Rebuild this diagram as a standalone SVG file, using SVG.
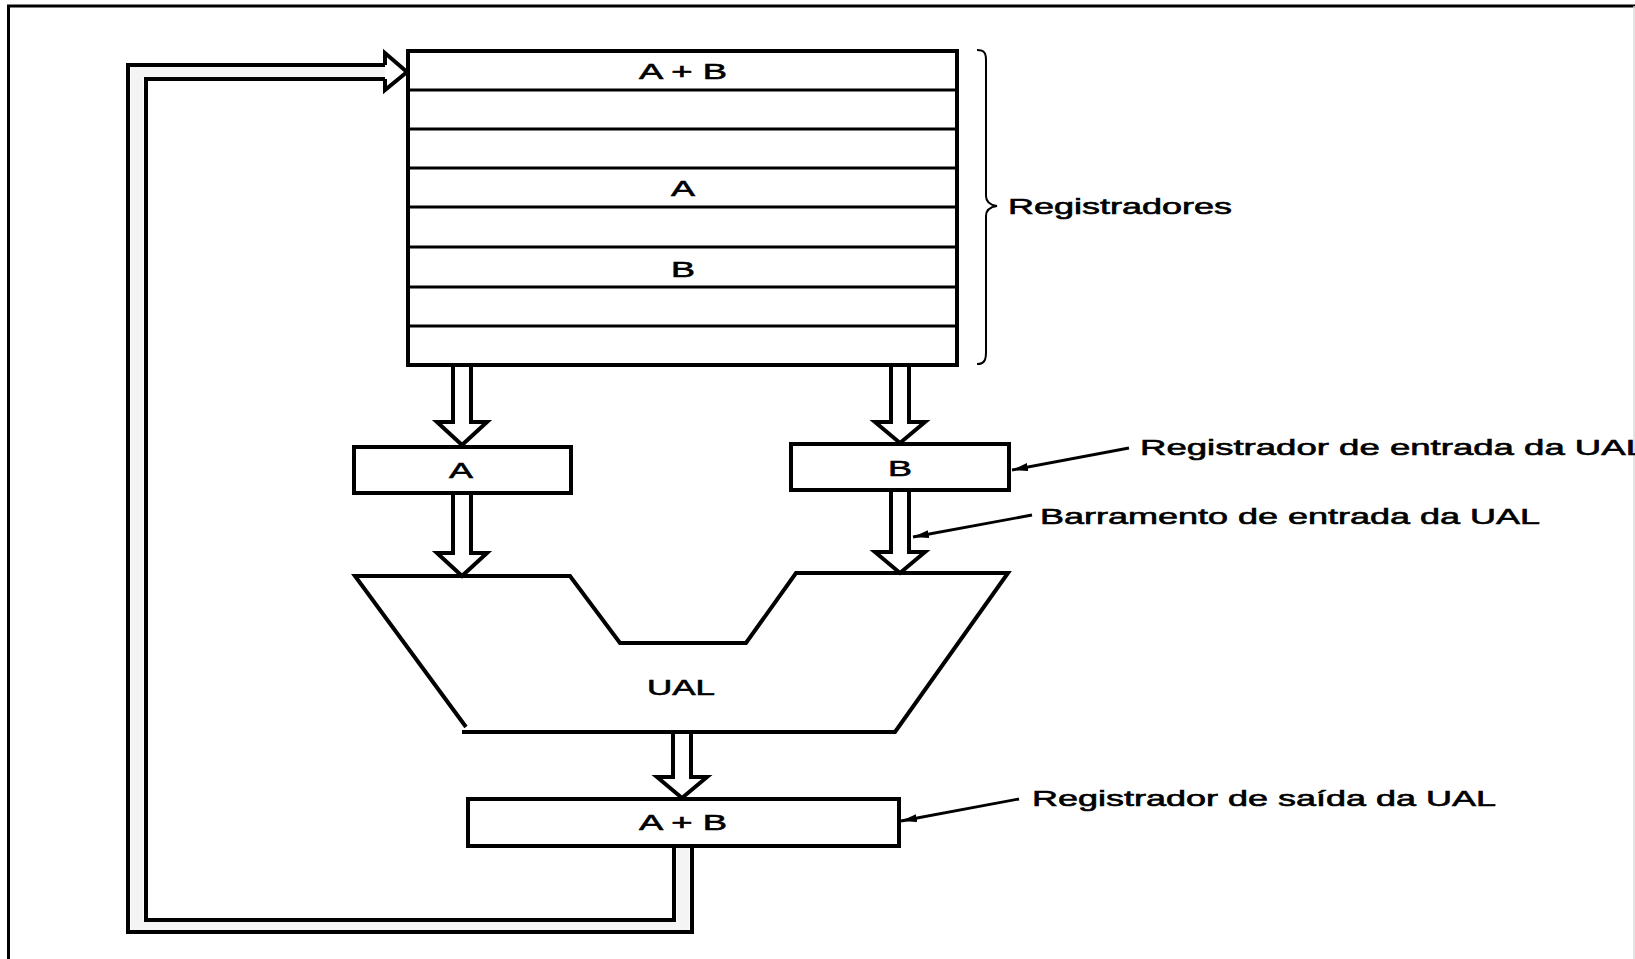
<svg xmlns="http://www.w3.org/2000/svg" width="1635" height="959" viewBox="0 0 1635 959">
  <defs>
    <style>
      .ln { fill: none; stroke: #000; stroke-width: 4; stroke-linejoin: miter; }
      .box { fill: #fff; stroke: #000; stroke-width: 4; }
      .row { stroke: #000; stroke-width: 3; }
      .bus { fill: #fff; stroke: #000; stroke-width: 4; stroke-linejoin: miter; }
      .thin { fill: none; stroke: #000; stroke-width: 2.8; }
      .t { font-family: "Liberation Sans", Arial, sans-serif; font-size: 22px; fill: #000; stroke: #000; stroke-width: 0.6; }
    </style>
    <marker id="ah" viewBox="0 0 16 8" refX="16" refY="4" markerWidth="16" markerHeight="8" markerUnits="userSpaceOnUse" orient="auto">
      <path d="M0,0 L16,4 L0,8 Z" fill="#000"/>
    </marker>
  </defs>
  <rect width="1635" height="959" fill="#fff"/>
  <!-- frame -->
  <path d="M8.5,959 V6 H1635" fill="none" stroke="#000" stroke-width="3"/>
  <line x1="1634" y1="6" x2="1634" y2="959" stroke="#d8d8d8" stroke-width="1.5"/>

  <g id="connectors">
    <!-- register file -> A -->
    <path class="bus" d="M453,367 V422 H437 L462,445 L487,422 H471 V367"/>
    <!-- register file -> B -->
    <path class="bus" d="M891,367 V422 H875 L900,443 L925,422 H909 V367"/>
    <!-- A -> ALU -->
    <path class="bus" d="M453,493 V553 H437 L462,576 L487,553 H471 V493"/>
    <!-- B -> ALU -->
    <path class="bus" d="M891,490 V552 H875 L900,573 L925,552 H909 V490"/>
    <!-- ALU -> output register -->
    <path class="bus" d="M673,732 V777 H657 L682,798 L707,777 H691 V732"/>
    <!-- feedback bus -->
    <path d="M385,72 H137 V926 H683 V846" fill="none" stroke="#f4f4f4" stroke-width="12"/>
    <path class="ln" d="M385,65 H128 V932 H692 V846"/>
    <path class="ln" d="M385,79 H146 V920 H674 V846"/>
    <path class="ln" d="M385,65 V53 L407,72 L385,90 V79" fill="#fff"/>
    <!-- label pointers -->
    <line class="thin" x1="1129" y1="448" x2="1012" y2="470" marker-end="url(#ah)"/>
    <line class="thin" x1="1032" y1="515" x2="913" y2="537" marker-end="url(#ah)"/>
    <line class="thin" x1="1019" y1="799" x2="901" y2="821" marker-end="url(#ah)"/>
  </g>

  <g id="registradores">
    <rect class="box" x="408" y="51" width="549" height="314"/>
    <line class="row" x1="408" y1="90" x2="957" y2="90"/>
    <line class="row" x1="408" y1="129" x2="957" y2="129"/>
    <line class="row" x1="408" y1="168" x2="957" y2="168"/>
    <line class="row" x1="408" y1="207" x2="957" y2="207"/>
    <line class="row" x1="408" y1="247" x2="957" y2="247"/>
    <line class="row" x1="408" y1="287" x2="957" y2="287"/>
    <line class="row" x1="408" y1="326" x2="957" y2="326"/>
    <text class="t" x="683" y="79" text-anchor="middle" textLength="88" lengthAdjust="spacingAndGlyphs">A + B</text>
    <text class="t" x="683" y="196" text-anchor="middle" textLength="24" lengthAdjust="spacingAndGlyphs">A</text>
    <text class="t" x="683" y="277" text-anchor="middle" textLength="24" lengthAdjust="spacingAndGlyphs">B</text>
  </g>

  <g id="brace">
    <path d="M977,50 C985,50 986,54 986,60 V196 C986,202 990,205 997,206 C990,207 986,210 986,216 V352 C986,359 985,364 977,364" fill="none" stroke="#000" stroke-width="2"/>
    <text class="t" x="1008" y="214" textLength="224" lengthAdjust="spacingAndGlyphs">Registradores</text>
  </g>

  <g id="reg-a">
    <rect class="box" x="354" y="447" width="217" height="46"/>
    <text class="t" x="461" y="478" text-anchor="middle" textLength="24" lengthAdjust="spacingAndGlyphs">A</text>
  </g>

  <g id="reg-b">
    <rect class="box" x="791" y="444" width="218" height="46"/>
    <text class="t" x="900" y="476" text-anchor="middle" textLength="24" lengthAdjust="spacingAndGlyphs">B</text>
  </g>

  <g id="ual">
    <path class="ln" d="M466,727 L355,576 H570 L620,643 H746 L796,573 H1008 L895,732 H462"/>
    <text class="t" x="681" y="695" text-anchor="middle" textLength="68" lengthAdjust="spacingAndGlyphs">UAL</text>
  </g>

  <g id="reg-out">
    <rect class="box" x="468" y="799" width="431" height="47"/>
    <text class="t" x="683" y="830" text-anchor="middle" textLength="88" lengthAdjust="spacingAndGlyphs">A + B</text>
  </g>

  <g id="labels">
    <text class="t" x="1140" y="455" textLength="506" lengthAdjust="spacingAndGlyphs">Registrador de entrada da UAL</text>
    <text class="t" x="1040" y="524" textLength="500" lengthAdjust="spacingAndGlyphs">Barramento de entrada da UAL</text>
    <text class="t" x="1032" y="806" textLength="464" lengthAdjust="spacingAndGlyphs">Registrador de saída da UAL</text>
  </g>
</svg>
